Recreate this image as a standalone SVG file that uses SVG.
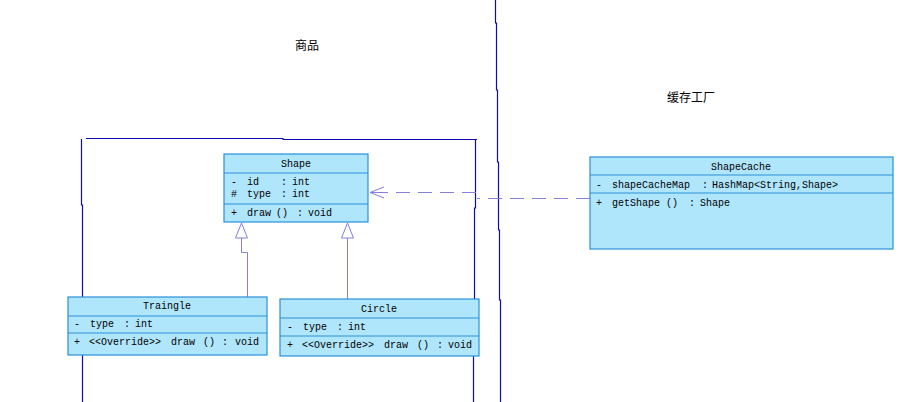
<svg xmlns="http://www.w3.org/2000/svg" width="912" height="402" viewBox="0 0 912 402">
<style>
.box{fill:#b0e6fb;stroke:#2a8fd8;stroke-width:1.2}
.sep{stroke:#2a8fd8;stroke-width:1.2}
.t{font-family:"Liberation Mono",monospace;font-size:10px;fill:#000}
.c{text-anchor:middle}
.frame{fill:none;stroke:#0c0cb4;stroke-width:1.2}
.conn{fill:none;stroke:#8480dc;stroke-width:1}
.dash{stroke-dasharray:14,8}
.zh{font-family:"Noto Sans CJK SC",sans-serif;font-size:12px;fill:#000}
</style>
<rect width="912" height="402" fill="#fff"/>
<g id="frames">
<polyline class="frame" points="81.5,139 81.5,205 82.5,205 82.5,402"/>
<polyline class="frame" points="86,138.5 283,138.5 283,139.5 477,139.5"/>
<polyline class="frame" points="475.5,140 475.5,208 474.5,208 474.5,300 473.5,300 473.5,402"/>
<polyline class="frame" points="495.5,0 495.5,23 496.5,23 496.5,90 497.5,90 497.5,162 498.5,162 498.5,230 499.5,230 499.5,300 500.5,300 500.5,402"/>
</g>
<g id="labels">
<text class="zh c" x="307" y="50">商品</text>
<text class="zh c" x="691" y="102">缓存工厂</text>
</g>
<g id="connectors">
<polyline class="conn dash" points="590,198.5 477,198.5"/>
<polyline class="conn dash" points="476,192.5 384,192.5"/>
<polyline class="conn" points="384,187 370,192.5 384,198"/>
<line class="conn" x1="370" y1="192.5" x2="384" y2="192.5"/>
<polyline class="conn" points="247.5,297 247.5,252.5 241.5,252.5 241.5,238"/>
<polygon class="conn" points="241.5,223 235.5,238 247.5,238" fill="#fff"/>
<line class="conn" x1="347.5" y1="299" x2="347.5" y2="238"/>
<polygon class="conn" points="347.5,223 341.5,238 353.5,238" fill="#fff"/>
</g>
<g id="Shape">
<rect class="box" x="224" y="154" width="144" height="68"/>
<line class="sep" x1="224" y1="173" x2="368" y2="173"/>
<line class="sep" x1="224" y1="204" x2="368" y2="204"/>
<text class="t c" x="296" y="167">Shape</text>
<text class="t" x="231" y="185">-</text><text class="t" x="247" y="185">id</text><text class="t" x="281" y="185">:</text><text class="t" x="292" y="185">int</text>
<text class="t" x="231" y="197">#</text><text class="t" x="247" y="197">type</text><text class="t" x="281" y="197">:</text><text class="t" x="292" y="197">int</text>
<text class="t" x="231" y="216">+</text><text class="t" x="247" y="216">draw</text><text class="t" x="276" y="216">()</text><text class="t" x="297" y="216">:</text><text class="t" x="308" y="216">void</text>
</g>
<g id="Traingle">
<rect class="box" x="68" y="297" width="199" height="58"/>
<line class="sep" x1="68" y1="316" x2="267" y2="316"/>
<line class="sep" x1="68" y1="333" x2="267" y2="333"/>
<text class="t c" x="167" y="309">Traingle</text>
<text class="t" x="74" y="327">-</text><text class="t" x="90" y="327">type</text><text class="t" x="124" y="327">:</text><text class="t" x="135" y="327">int</text>
<text class="t" x="74" y="345">+</text><text class="t" x="89" y="345">&lt;&lt;Override&gt;&gt;</text><text class="t" x="171" y="345">draw</text><text class="t" x="203" y="345">()</text><text class="t" x="222" y="345">:</text><text class="t" x="235" y="345">void</text>
</g>
<g id="Circle">
<rect class="box" x="280" y="299" width="199" height="57"/>
<line class="sep" x1="280" y1="318" x2="479" y2="318"/>
<line class="sep" x1="280" y1="336" x2="479" y2="336"/>
<text class="t c" x="379" y="312">Circle</text>
<text class="t" x="287" y="330">-</text><text class="t" x="303" y="330">type</text><text class="t" x="337" y="330">:</text><text class="t" x="348" y="330">int</text>
<text class="t" x="287" y="348">+</text><text class="t" x="302" y="348">&lt;&lt;Override&gt;&gt;</text><text class="t" x="384" y="348">draw</text><text class="t" x="417" y="348">()</text><text class="t" x="437" y="348">:</text><text class="t" x="448" y="348">void</text>
</g>
<g id="ShapeCache">
<rect class="box" x="590" y="157" width="303" height="92"/>
<line class="sep" x1="590" y1="175" x2="893" y2="175"/>
<line class="sep" x1="590" y1="193" x2="893" y2="193"/>
<text class="t c" x="741" y="170">ShapeCache</text>
<text class="t" x="596" y="188">-</text><text class="t" x="612" y="188">shapeCacheMap</text><text class="t" x="702" y="188">:</text><text class="t" x="712" y="188">HashMap&lt;String,Shape&gt;</text>
<text class="t" x="596" y="206">+</text><text class="t" x="612" y="206">getShape</text><text class="t" x="666" y="206">()</text><text class="t" x="689" y="206">:</text><text class="t" x="700" y="206">Shape</text>
</g>
</svg>
